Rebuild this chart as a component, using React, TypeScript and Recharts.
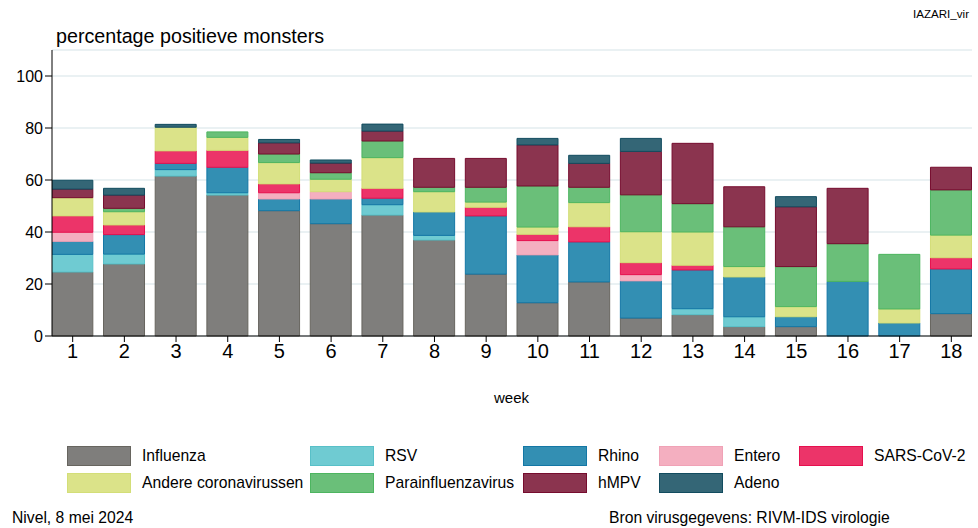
import React from "react";
import { BarChart, Bar, XAxis, YAxis, CartesianGrid } from "recharts";

const weeks = [1, 2, 3, 4, 5, 6, 7, 8, 9, 10, 11, 12, 13, 14, 15, 16, 17, 18];
const influenza = [24.6, 27.7, 61.5, 54.2, 48.2, 43.2, 46.5, 36.9, 23.8, 12.8, 20.8, 6.9, 8.2, 3.6, 3.6, 0, 0, 8.6];
const rsv = [6.8, 3.8, 2.5, 0.9, 0, 0, 4.0, 1.8, 0, 0, 0, 0, 2.3, 3.8, 0, 0, 0, 0];
const rhino = [5.0, 7.5, 2.4, 9.8, 4.5, 9.5, 2.5, 9.0, 22.4, 18.4, 15.4, 14.3, 14.9, 15.3, 3.8, 21.0, 5.0, 17.2];
const entero = [3.5, 0, 0, 0, 2.4, 2.8, 0, 0, 0, 5.5, 0, 2.4, 0, 0, 0, 0, 0, 0];
const sars = [6.3, 3.7, 4.8, 6.5, 3.4, 0, 3.8, 0, 3.3, 2.4, 5.8, 4.6, 1.8, 0, 0, 0, 0, 4.3];
const andere = [7.0, 5.1, 9.1, 5.0, 8.2, 4.8, 11.8, 7.8, 2.0, 2.8, 9.3, 11.9, 12.8, 4.0, 3.9, 0, 5.4, 8.7];
const para = [0, 1.3, 0, 2.1, 3.3, 2.5, 6.4, 1.7, 5.7, 15.8, 5.9, 14.2, 10.9, 15.3, 15.4, 14.5, 21.0, 17.4];
const hmpv = [3.3, 5.1, 0, 0, 4.3, 3.7, 3.8, 11.1, 11.1, 15.8, 9.2, 16.7, 23.2, 15.4, 23.0, 21.3, 0, 8.7];
const adeno = [3.4, 2.6, 1.1, 0, 1.3, 1.2, 2.7, 0, 0, 2.5, 3.1, 5.0, 0, 0, 3.9, 0, 0, 0];

const yTicks = [0, 20, 40, 60, 80, 100];

// stack order bottom -> top, also the legend order
const series = [
  { key: "influenza", name: "Influenza", values: influenza, fill: "#7f7e7c", stroke: "#67655f" },
  { key: "rsv", name: "RSV", values: rsv, fill: "#6fcbd2", stroke: "#58c0c8" },
  { key: "rhino", name: "Rhino", values: rhino, fill: "#338fb3", stroke: "#1477a5" },
  { key: "entero", name: "Entero", values: entero, fill: "#f4afc0", stroke: "#f0a2b6" },
  { key: "sars", name: "SARS-CoV-2", values: sars, fill: "#ec3469", stroke: "#e6104e" },
  { key: "andere", name: "Andere coronavirussen", values: andere, fill: "#dbe389", stroke: "#d3de78" },
  { key: "para", name: "Parainfluenzavirus", values: para, fill: "#6abf79", stroke: "#4db560" },
  { key: "hmpv", name: "hMPV", values: hmpv, fill: "#8b344f", stroke: "#760c2e" },
  { key: "adeno", name: "Adeno", values: adeno, fill: "#346676", stroke: "#124c5f" },
];

const data = weeks.map((w, i) => {
  const row: Record<string, number> = { week: w };
  series.forEach((s) => {
    row[s.key] = s.values[i];
  });
  return row;
});

const legendPos = [
  { left: 67, top: 446 },
  { left: 310, top: 446 },
  { left: 523, top: 446 },
  { left: 659, top: 446 },
  { left: 799, top: 446 },
  { left: 67, top: 473 },
  { left: 310, top: 473 },
  { left: 523, top: 473 },
  { left: 659, top: 473 },
];

const font = "'Liberation Sans', Arial, sans-serif";

const App = () => {
  return (
    <div
      style={{
        position: "absolute",
        left: 0,
        top: 0,
        width: 978,
        height: 528,
        background: "#fff",
        fontFamily: font,
        color: "#000",
      }}
    >
      <div style={{ position: "absolute", right: 9, top: 7, fontSize: 11.6 }}>IAZARI_vir</div>
      <div style={{ position: "absolute", left: 56, top: 25, fontSize: 19.7 }}>
        percentage positieve monsters
      </div>

      <BarChart
        width={978}
        height={400}
        data={data}
        margin={{ top: 50, right: 6, left: 0, bottom: 0 }}
        style={{ position: "absolute", left: 0, top: 0 }}
      >
        <CartesianGrid vertical={false} stroke="#eaf1f3" strokeWidth={2} />
        <XAxis
          dataKey="week"
          type="number"
          domain={[0.6, 18.4]}
          ticks={weeks}
          interval={0}
          allowDataOverflow
          height={64}
          tickSize={6}
          tick={{ fontSize: 20, fill: "#000", fontFamily: font }}
          stroke="#000"
          tickLine={{ stroke: "#000" }}
        />
        <YAxis
          domain={[0, 110]}
          ticks={yTicks}
          width={52}
          tickSize={7}
          tick={{ fontSize: 16, fill: "#000", fontFamily: font }}
          stroke="#000"
          tickLine={{ stroke: "#000" }}
        />
        {series.map((s) => (
          <Bar
            key={s.key}
            dataKey={s.key}
            name={s.name}
            stackId="a"
            barSize={41}
            fill={s.fill}
            stroke={s.stroke}
            strokeWidth={1}
            isAnimationActive={false}
          />
        ))}
      </BarChart>

      <div style={{ position: "absolute", left: 494, top: 389, fontSize: 15 }}>week</div>

      {series.map((s, i) => (
        <div
          key={s.key}
          style={{
            position: "absolute",
            left: legendPos[i].left,
            top: legendPos[i].top,
            height: 20,
            display: "flex",
            alignItems: "center",
            whiteSpace: "nowrap",
          }}
        >
          <div
            style={{
              width: 62,
              height: 18,
              background: s.fill,
              border: `1px solid ${s.stroke}`,
            }}
          />
          <span style={{ marginLeft: 11, fontSize: 15.7 }}>{s.name}</span>
        </div>
      ))}

      <div style={{ position: "absolute", left: 12, top: 509, fontSize: 15.7 }}>Nivel, 8 mei 2024</div>
      <div style={{ position: "absolute", left: 609, top: 509, fontSize: 15.7 }}>
        Bron virusgegevens: RIVM-IDS virologie
      </div>
    </div>
  );
};

export default App;
